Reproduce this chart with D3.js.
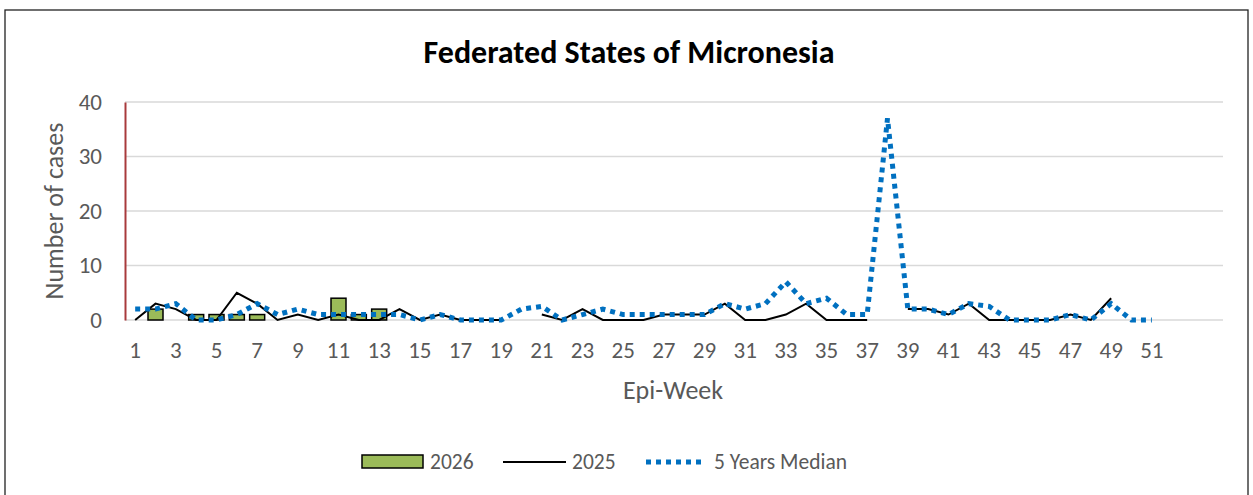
<!DOCTYPE html>
<html>
<head>
<meta charset="utf-8">
<script src="https://cdn.jsdelivr.net/npm/d3@7"></script>
<style>
  body { margin: 0; background: #fff; }
  svg { display: block; font-family: Carlito, "Liberation Sans", Arial, sans-serif; }
</style>
</head>
<body>
<div id="chart"></div>
<script>
// Epi-weeks shown on the category axis (54 slots, labels only for 1-52)
var weeks = d3.range(1, 55);
var tickWeeks = [1, 3, 5, 7, 9, 11, 13, 15, 17, 19, 21, 23, 25, 27, 29, 31, 33, 35, 37, 39, 41, 43, 45, 47, 49, 51];
var yTicks = [0, 10, 20, 30, 40];

// 2026 cases (bars), weeks 1-13
var cases2026 = [null, 2, null, 1, 1, 1, 1, null, null, null, 4, 1, 2];

// 2025 cases (black line), weeks 1-52
var cases2025 = [0, 3, 2, 0, 0, 5, 3, 0, 1, 0, 1, 0, 0, 2, 0, 1, 0, 0, 0, null,
                 1, 0, 2, 0, 0, 0, 1, 1, 1, 3, 0, 0, 1, 3, 0, 0, 0, null, 2, 2,
                 1, 3, 0, 0, 0, 0, 1, 0, 4, null, null, null];

// 5 years median (blue dotted line), weeks 1-51
var median5 = [2, 2, 3, 0, 0, 1, 3, 1, 2, 1, 1, 1, 1, 1, 0, 1, 0, 0, 0, 2,
               2.5, 0, 1, 2, 1, 1, 1, 1, 1, 3, 2, 3, 7, 3, 4, 1, 1, 37, 2, 2,
               1, 3, 2.5, 0, 0, 0, 1, 0, 3, 0, 0];

var width = 1253, height = 495;
var FONT = 'Carlito, "Liberation Sans", Arial, sans-serif';

var svg = d3.select('#chart').append('svg')
    .attr('width', width)
    .attr('height', height);

// outer frame
svg.append('rect')
    .attr('x', 5).attr('y', 10)
    .attr('width', 1243).attr('height', 495)
    .attr('fill', 'none')
    .attr('stroke', '#222')
    .attr('stroke-width', 1.3);

// title
svg.append('text')
    .attr('x', 629).attr('y', 63)
    .attr('text-anchor', 'middle')
    .attr('font-size', '32px')
    .attr('font-weight', 'bold')
    .attr('fill', '#000')
    .text('Federated States of Micronesia');

var xScale = d3.scaleBand()
    .domain(weeks)
    .range([125, 1223])
    .padding(0);

var yScale = d3.scaleLinear()
    .domain([0, 40])
    .range([320, 102]);

function cx(w) { return xScale(w) + xScale.bandwidth() / 2; }

// grid lines
svg.selectAll('.grid-line')
    .data(yTicks)
    .enter()
    .append('line')
    .attr('class', 'grid-line')
    .attr('x1', 125)
    .attr('x2', 1223)
    .attr('y1', function(d) { return yScale(d); })
    .attr('y2', function(d) { return yScale(d); })
    .attr('stroke', '#d9d9d9')
    .attr('stroke-width', 1.5);

// y axis
var yAxis = svg.append('g')
    .attr('transform', 'translate(125,0)')
    .call(d3.axisLeft(yScale).tickValues(yTicks).tickSize(0).tickPadding(23));
yAxis.select('.domain')
    .attr('stroke', '#a83a3c')
    .attr('stroke-width', 2);
yAxis.selectAll('text')
    .attr('font-size', '23px')
    .attr('font-family', FONT)
    .attr('fill', '#595959');

// x axis labels
var xAxis = svg.append('g')
    .attr('transform', 'translate(0,320)')
    .call(d3.axisBottom(xScale).tickValues(tickWeeks).tickSize(0).tickPadding(22));
xAxis.select('.domain').remove();
xAxis.selectAll('text')
    .attr('font-size', '23px')
    .attr('font-family', FONT)
    .attr('fill', '#595959');

// axis titles
svg.append('text')
    .attr('transform', 'translate(63,211) rotate(-90)')
    .attr('text-anchor', 'middle')
    .attr('font-size', '26px')
    .attr('fill', '#595959')
    .text('Number of cases');

svg.append('text')
    .attr('x', 673).attr('y', 399)
    .attr('text-anchor', 'middle')
    .attr('font-size', '26px')
    .attr('fill', '#595959')
    .text('Epi-Week');

// 2026 bars
var barData = cases2026.map(function(v, i) { return { w: i + 1, v: v }; })
    .filter(function(d) { return d.v != null; });
var barW = 15;
svg.selectAll('.bar')
    .data(barData)
    .enter()
    .append('rect')
    .attr('class', 'bar')
    .attr('x', function(d) { return cx(d.w) - barW / 2; })
    .attr('y', function(d) { return yScale(d.v); })
    .attr('width', barW)
    .attr('height', function(d) { return yScale(0) - yScale(d.v); })
    .attr('fill', '#9bbb59')
    .attr('stroke', '#000')
    .attr('stroke-width', 1.5);

var line = d3.line()
    .defined(function(d) { return d.v != null; })
    .x(function(d) { return cx(d.w); })
    .y(function(d) { return yScale(d.v); });

// 2025 line
svg.append('path')
    .datum(cases2025.map(function(v, i) { return { w: i + 1, v: v }; }))
    .attr('d', line)
    .attr('fill', 'none')
    .attr('stroke', '#000')
    .attr('stroke-width', 2);

// 5 years median
svg.append('path')
    .datum(median5.map(function(v, i) { return { w: i + 1, v: v }; }))
    .attr('d', line)
    .attr('fill', 'none')
    .attr('stroke', '#0070c0')
    .attr('stroke-width', 5)
    .attr('stroke-dasharray', '5,5');

// legend
var lg = svg.append('g').attr('font-size', '21.5px').attr('fill', '#595959');
lg.append('rect')
    .attr('x', 362).attr('y', 455)
    .attr('width', 61).attr('height', 13)
    .attr('fill', '#9bbb59')
    .attr('stroke', '#000')
    .attr('stroke-width', 1.5);
lg.append('text').attr('x', 430).attr('y', 469).text('2026');
lg.append('line')
    .attr('x1', 503).attr('x2', 566)
    .attr('y1', 462).attr('y2', 462)
    .attr('stroke', '#000').attr('stroke-width', 2);
lg.append('text').attr('x', 572).attr('y', 469).text('2025');
lg.append('line')
    .attr('x1', 646).attr('x2', 706)
    .attr('y1', 462).attr('y2', 462)
    .attr('stroke', '#0070c0').attr('stroke-width', 5)
    .attr('stroke-dasharray', '5,5');
lg.append('text').attr('x', 714).attr('y', 469).text('5 Years Median');
</script>
</body>
</html>
